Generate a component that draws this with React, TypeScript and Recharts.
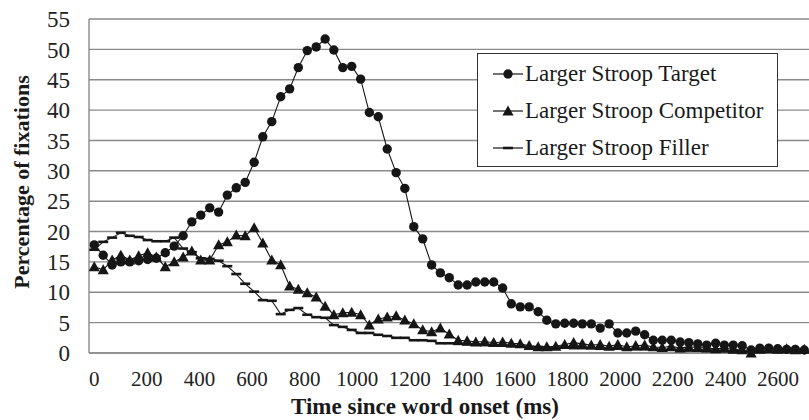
import React from 'react';
import { LineChart, Line, XAxis, YAxis, CartesianGrid, Legend, Label } from 'recharts';

const FONT = "'Liberation Serif', 'Times New Roman', serif";

// time bins (ms)
const timeMs = [
  0, 34, 68, 101, 135, 169, 203, 236, 270, 304,
  338, 371, 405, 439, 473, 506, 540, 574, 608, 641,
  675, 709, 743, 776, 810, 844, 878, 911, 945, 979,
  1013, 1046, 1080, 1114, 1148, 1181, 1215, 1249, 1283, 1316,
  1350, 1384, 1418, 1451, 1485, 1519, 1553, 1586, 1620, 1654,
  1688, 1721, 1755, 1789, 1823, 1856, 1890, 1924, 1958, 1991,
  2025, 2059, 2093, 2126, 2160, 2194, 2228, 2261, 2295, 2329,
  2363, 2396, 2430, 2464, 2498, 2531, 2565, 2599, 2633, 2666,
  2700,
];

const targetPct = [
  17.8, 16.1, 14.5, 15.0, 15.0, 15.2, 15.4, 15.6, 16.5, 17.6,
  19.3, 21.6, 22.7, 23.9, 23.2, 26.0, 27.2, 28.1, 31.4, 35.6,
  38.1, 42.2, 43.5, 47.0, 49.8, 50.4, 51.7, 49.9, 47.0, 47.2,
  45.1, 39.6, 38.9, 33.6, 29.7, 27.1, 20.8, 18.8, 14.5, 13.2,
  12.4, 11.2, 11.2, 11.7, 11.7, 11.7, 10.7, 8.1, 7.6, 7.6,
  6.8, 5.4, 4.8, 4.9, 4.9, 4.8, 4.8, 4.1, 4.8, 3.3,
  3.3, 3.6, 3.0, 2.1, 2.1, 2.1, 1.8, 1.7, 1.5, 1.3,
  1.6, 1.3, 1.3, 1.2, 0.5, 0.8, 0.8, 0.7, 0.6, 0.6,
  0.5,
];

const competitorPct = [
  14.2, 13.7, 15.3, 16.1, 15.3, 16.0, 16.5, 15.8, 14.2, 15.0,
  15.8, 16.8, 15.3, 15.3, 17.8, 18.3, 19.4, 19.3, 20.6, 18.1,
  15.3, 14.5, 11.0, 10.5, 9.9, 9.2, 7.7, 6.3, 6.6, 6.7,
  6.3, 4.6, 5.6, 5.9, 6.1, 5.4, 4.8, 3.8, 3.5, 4.1,
  3.1, 2.1, 2.0, 1.8, 1.9, 1.7, 1.8, 1.6, 1.5, 1.2,
  1.0, 1.0, 1.1, 1.4, 1.7, 1.5, 1.3, 1.4, 1.1, 1.4,
  1.0, 1.2, 1.3, 1.0, 0.9, 1.1, 0.8, 1.0, 0.9, 0.8,
  0.7, 0.8, 0.6, 0.5, 0.0, 0.6, 0.7, 0.6, 0.7, 0.5,
  0.6,
];

const fillerPct = [
  17.0, 18.3, 19.0, 19.8, 19.3, 19.1, 18.6, 18.4, 18.4, 19.0,
  17.2, 16.6, 15.6, 15.5, 15.2, 14.3, 13.0, 11.4, 10.1, 8.7,
  8.6, 6.4, 7.1, 7.4, 6.3, 5.9, 5.8, 4.6, 4.3, 3.8,
  3.3, 3.3, 3.0, 2.8, 2.5, 2.5, 2.1, 2.1, 2.0, 1.6,
  1.6, 1.5, 1.4, 1.4, 1.3, 1.3, 1.2, 1.2, 1.1, 1.0,
  1.0, 0.9, 0.9, 0.9, 0.8, 0.8, 0.8, 0.7, 0.7, 0.7,
  0.6, 0.6, 0.6, 0.6, 0.5, 0.5, 0.5, 0.4, 0.4, 0.4,
  0.4, 0.3, 0.3, 0.3, 0.3, 0.2, 0.2, 0.2, 0.2, 0.2,
  0.2,
];

const xTicks = [0, 200, 400, 600, 800, 1000, 1200, 1400, 1600, 1800, 2000, 2200, 2400, 2600];
const yTicks = [0, 5, 10, 15, 20, 25, 30, 35, 40, 45, 50, 55];

const seriesNames = ['Larger Stroop Target', 'Larger Stroop Competitor', 'Larger Stroop Filler'];

const data = timeMs.map((t, i) => ({
  time: t,
  target: targetPct[i],
  competitor: competitorPct[i],
  filler: fillerPct[i],
}));

const INK = '#161616';

function CircleDot({ cx, cy }: any) {
  if (cx == null || cy == null) return null;
  return <circle cx={cx} cy={cy} r={4.7} fill={INK} />;
}

function TriangleDot({ cx, cy }: any) {
  if (cx == null || cy == null) return null;
  const w = 5.6;
  return (
    <path
      d={`M${cx},${cy - 5.6} L${cx + w},${cy + 4.4} L${cx - w},${cy + 4.4} Z`}
      fill={INK}
    />
  );
}

function DashDot({ cx, cy }: any) {
  if (cx == null || cy == null) return null;
  return <rect x={cx - 5} y={cy - 1.3} width={10} height={2.6} fill={INK} />;
}

const markers = [CircleDot, TriangleDot, DashDot];

function LegendBox() {
  return (
    <div
      style={{
        border: '1.3px solid #333',
        background: '#fff',
        width: 301,
        boxSizing: 'border-box',
        paddingTop: 1,
        fontFamily: FONT,
        fontSize: 23,
        color: '#1a1a1a',
      }}
    >
      {seriesNames.map((name, i) => {
        const M = markers[i];
        return (
          <div key={name} style={{ display: 'flex', alignItems: 'center', height: 37 }}>
            <svg width={32} height={20} style={{ marginLeft: 15, flex: 'none' }}>
              <line x1={0} y1={10} x2={30} y2={10} stroke={INK} strokeWidth={1.2} />
              <M cx={15} cy={10} />
            </svg>
            <span style={{ marginLeft: 0, whiteSpace: 'nowrap' }}>{name}</span>
          </div>
        );
      })}
    </div>
  );
}

export default function App() {
  return (
    <div style={{ position: 'absolute', left: 0, top: 0, width: 809, height: 420, overflow: 'hidden', background: '#fff' }}>
      <LineChart width={809} height={420} data={data} margin={{ top: 19, right: 0, bottom: 0, left: 0 }}>
        <CartesianGrid vertical={false} stroke="#8a8a8a" strokeWidth={1.4} />
        <XAxis
          dataKey="time"
          type="number"
          domain={[-20, 2718]}
          ticks={xTicks}
          interval={0}
          allowDataOverflow
          height={67}
          tickLine={false}
          axisLine={{ stroke: '#8a8a8a', strokeWidth: 1.4 }}
          tickMargin={12}
          tick={{ fontSize: 21, fontFamily: FONT, fill: '#222' }}
        >
          <Label
            content={() => (
              <text x={425} y={414} textAnchor="middle" fontFamily={FONT} fontSize={23} fontWeight="bold" fill="#1a1a1a">
                Time since word onset (ms)
              </text>
            )}
          />
        </XAxis>
        <YAxis
          type="number"
          domain={[0, 55]}
          ticks={yTicks}
          interval={0}
          width={89}
          tickLine={false}
          axisLine={{ stroke: '#8a8a8a', strokeWidth: 1.4 }}
          tickMargin={13}
          tick={{ fontSize: 23, fontFamily: FONT, fill: '#222' }}
        >
          <Label
            content={() => (
              <text
                x={29}
                y={182}
                textAnchor="middle"
                transform="rotate(-90 29 182)"
                fontFamily={FONT}
                fontSize={22}
                fontWeight="bold"
                fill="#1a1a1a"
              >
                Percentage of fixations
              </text>
            )}
          />
        </YAxis>
        <Legend
          layout="vertical"
          align="center"
          verticalAlign="middle"
          content={() => <LegendBox />}
          wrapperStyle={{ left: 477, top: 53, width: 301, height: 112 }}
        />
        <Line
          dataKey="target"
          stroke={INK}
          strokeWidth={1.1}
          dot={(p: any) => <CircleDot key={`t${p.index}`} cx={p.cx} cy={p.cy} />}
          activeDot={false}
          isAnimationActive={false}
        />
        <Line
          dataKey="competitor"
          stroke={INK}
          strokeWidth={1.1}
          dot={(p: any) => <TriangleDot key={`c${p.index}`} cx={p.cx} cy={p.cy} />}
          activeDot={false}
          isAnimationActive={false}
        />
        <Line
          dataKey="filler"
          stroke={INK}
          strokeWidth={1.1}
          dot={(p: any) => <DashDot key={`f${p.index}`} cx={p.cx} cy={p.cy} />}
          activeDot={false}
          isAnimationActive={false}
        />
      </LineChart>
    </div>
  );
}
